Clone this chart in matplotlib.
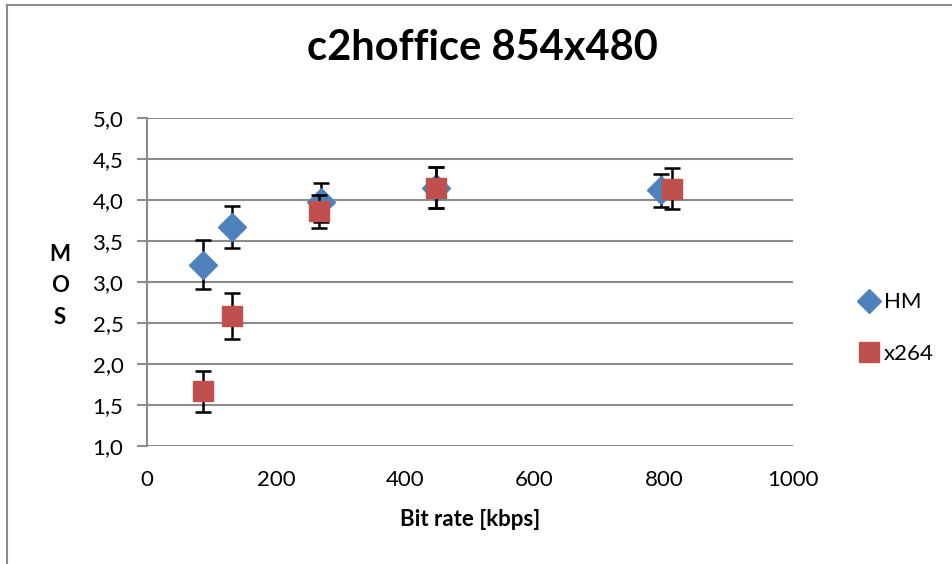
import matplotlib
matplotlib.use("Agg")
import matplotlib.pyplot as plt
from matplotlib.lines import Line2D

plt.rcParams['font.family'] = ['Lato', 'DejaVu Sans']

title = "c2hoffice 854x480"
series_names = ["HM", "x264"]
hm_rate = [87, 132, 269, 447, 796]
hm_mos = [3.21, 3.67, 3.97, 4.15, 4.12]
hm_err = [0.30, 0.26, 0.24, 0.25, 0.20]
x264_rate = [86, 131, 266, 447, 813]
x264_mos = [1.67, 2.58, 3.86, 4.15, 4.14]
x264_err = [0.25, 0.28, 0.20, 0.25, 0.25]
y_ticks = [1.0, 1.5, 2.0, 2.5, 3.0, 3.5, 4.0, 4.5, 5.0]
y_ticklabels = ["1,0", "1,5", "2,0", "2,5", "3,0", "3,5", "4,0", "4,5", "5,0"]
x_ticks = [0, 200, 400, 600, 800, 1000]

fig = plt.figure(figsize=(9.52, 5.64), dpi=100)
ax = fig.add_axes([147/952, 1-446/564, (793-147)/952, (446-118)/564])

grid_c = "#8c8c8c"
for yt in y_ticks:
    ax.axhline(yt, color=grid_c, lw=1.5, zorder=0)

ax.errorbar(hm_rate, hm_mos, yerr=hm_err, fmt='D', color="#4F81BD", ms=14,
            mec="#4F81BD", ecolor="black", elinewidth=1.8, capsize=6, capthick=1.8,
            label=series_names[0], zorder=3)
ax.errorbar(x264_rate, x264_mos, yerr=x264_err, fmt='s', color="#C0504D", ms=14.5,
            mec="#C0504D", ecolor="black", elinewidth=1.8, capsize=6, capthick=1.8,
            label=series_names[1], zorder=4)

ax.set_xlim(0, 1000)
ax.set_ylim(1.0, 5.0)
ax.set_yticks(y_ticks)
ax.set_yticklabels(y_ticklabels)
ax.set_xticks(x_ticks)
for s in ["top", "right", "bottom"]:
    ax.spines[s].set_visible(False)
ax.spines["left"].set_color(grid_c)
ax.spines["left"].set_linewidth(1.5)
ax.tick_params(axis='y', direction='out', length=7, width=1.5, color=grid_c,
               labelsize=16, pad=10)
ax.tick_params(axis='x', length=0, labelsize=16, pad=17)

ax.set_xlabel("Bit rate [kbps]", fontsize=16, fontweight='bold', labelpad=14)
fig.text(60/952, 1-286/564, "M\nO\nS", fontsize=16, fontweight='bold',
         ha='center', va='center', linespacing=1.6)
fig.text(482/952, 1-48/564, title, fontsize=30, fontweight='bold',
         ha='center', va='center')

handles = [Line2D([], [], marker='D', ls='', color="#4F81BD", ms=12),
           Line2D([], [], marker='s', ls='', color="#C0504D", ms=14)]
leg = fig.legend(handles, series_names, loc='center left',
                 bbox_to_anchor=(836/952, 1-328/564), frameon=False,
                 fontsize=16, labelspacing=1.4, handletextpad=0.05,
                 handlelength=1.2)

# chart area border (left and top)
fig.add_artist(Line2D([7/952, 7/952], [0, 1-5/564], color="#8c8c8c", lw=1.5,
                      transform=fig.transFigure))
fig.add_artist(Line2D([7/952, 1], [1-5/564, 1-5/564], color="#8c8c8c", lw=1.5,
                      transform=fig.transFigure))

fig.savefig("out.png", dpi=100)
